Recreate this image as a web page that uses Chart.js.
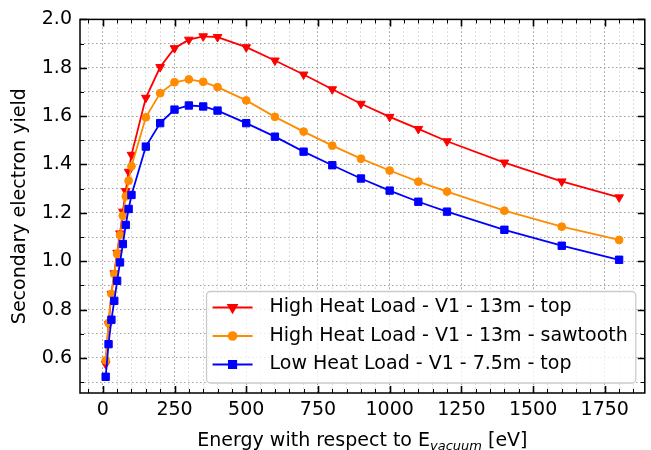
<!DOCTYPE html>
<html>
<head>
<meta charset="utf-8">
<title>Secondary electron yield</title>
<script src="https://cdn.jsdelivr.net/npm/chart.js"></script>
<style>
  html, body { margin: 0; padding: 0; background: #fff; }
  #wrap { width: 651px; height: 450px; }
</style>
</head>
<body>
<div id="wrap"><canvas id="chart-sey" width="651" height="450"></canvas></div>
<script>
// energy points [eV]
var energy = [10, 20, 30, 40, 50, 60, 70, 80, 90, 100, 150, 200, 250, 300, 350, 400,
              500, 600, 700, 800, 900, 1000, 1100, 1200, 1400, 1600, 1800];

var seyHighTop = [0.575, 0.74, 0.865, 0.95, 1.035, 1.115, 1.205, 1.29, 1.37, 1.44,
                  1.676, 1.803, 1.881, 1.916, 1.930, 1.927, 1.885, 1.830, 1.772, 1.711,
                  1.651, 1.597, 1.547, 1.496, 1.408, 1.330, 1.264];
var seyHighSaw = [0.59, 0.745, 0.865, 0.947, 1.03, 1.108, 1.188, 1.268, 1.333, 1.393,
                  1.595, 1.695, 1.740, 1.752, 1.742, 1.720, 1.665, 1.597, 1.536, 1.478,
                  1.424, 1.375, 1.329, 1.288, 1.209, 1.143, 1.088];
var seyLowTop  = [0.522, 0.657, 0.758, 0.836, 0.919, 0.995, 1.071, 1.150, 1.216, 1.274,
                  1.474, 1.571, 1.627, 1.644, 1.640, 1.623, 1.571, 1.515, 1.453, 1.397,
                  1.342, 1.292, 1.246, 1.205, 1.130, 1.064, 1.006];

var seriesLabels = ['High Heat Load - V1 - 13m - top',
                    'High Heat Load - V1 - 13m - sawtooth',
                    'Low Heat Load - V1 - 7.5m - top'];

var xTickLabels = [0, 250, 500, 750, 1000, 1250, 1500, 1750];
var yTickLabels = [0.6, 0.8, 1.0, 1.2, 1.4, 1.6, 1.8, 2.0];

var FONT = '"DejaVu Sans", "Liberation Sans", sans-serif';
var X_MIN = -79.5, X_MAX = 1889.5, Y_MIN = 0.455, Y_MAX = 2.0;

// minor ticks every 50 eV / 0.1
var xTicks = [];
for (var i = -50; i <= 1850; i += 50) xTicks.push(i);
var yTicks = [];
for (var j = 5; j <= 20; j++) yTicks.push(j / 10);

function isMajorX(v) {
    return xTickLabels.indexOf(v) !== -1;
}

function isMajorY(v) {
    return yTickLabels.some(function (t) { return Math.abs(t - v) < 1e-6; });
}

var frameAndLegend = {
    id: 'frameAndLegend',
    afterDraw: function (chart) {
        var ctx = chart.ctx;
        var area = chart.chartArea;
        var xs = chart.scales.x, ys = chart.scales.y;

        ctx.save();
        ctx.strokeStyle = '#000';

        // inward ticks on all four sides
        xTicks.forEach(function (v) {
            var px = Math.round(xs.getPixelForValue(v)) + 0.5;
            var len = isMajorX(v) ? 7 : 4;
            ctx.lineWidth = isMajorX(v) ? 1.6 : 1;
            ctx.beginPath();
            ctx.moveTo(px, area.bottom); ctx.lineTo(px, area.bottom - len);
            ctx.moveTo(px, area.top); ctx.lineTo(px, area.top + len);
            ctx.stroke();
        });
        yTicks.forEach(function (v) {
            var py = Math.round(ys.getPixelForValue(v)) + 0.5;
            var len = isMajorY(v) ? 7 : 4;
            ctx.lineWidth = isMajorY(v) ? 1.6 : 1;
            ctx.beginPath();
            ctx.moveTo(area.left, py); ctx.lineTo(area.left + len, py);
            ctx.moveTo(area.right, py); ctx.lineTo(area.right - len, py);
            ctx.stroke();
        });

        ctx.lineWidth = 1.5;
        ctx.strokeRect(area.left, area.top, area.right - area.left, area.bottom - area.top);

        // x axis title with subscript
        var main = 'Energy with respect to E', sub = 'vacuum', tail = ' [eV]';
        var mainFont = '19px ' + FONT, subFont = 'italic 13px ' + FONT;
        ctx.font = mainFont;
        var w1 = ctx.measureText(main).width, w3 = ctx.measureText(tail).width;
        ctx.font = subFont;
        var w2 = ctx.measureText(sub).width;
        var tx = (area.left + area.right) / 2 - (w1 + w2 + w3) / 2;
        var ty = 446;
        ctx.fillStyle = '#000';
        ctx.textBaseline = 'alphabetic';
        ctx.textAlign = 'left';
        ctx.font = mainFont;
        ctx.fillText(main, tx, ty);
        ctx.font = subFont;
        ctx.fillText(sub, tx + w1, ty + 4);
        ctx.font = mainFont;
        ctx.fillText(tail, tx + w1 + w2, ty);

        // legend, lower right
        ctx.font = '19px ' + FONT;
        var maxW = 0;
        chart.data.datasets.forEach(function (ds) {
            maxW = Math.max(maxW, ctx.measureText(ds.label).width);
        });
        var rowH = 28.5;
        var bw = 63 + maxW + 8, bh = rowH * 3 + 6;
        var bx = area.right - 9 - bw, by = area.bottom - 10 - bh;
        ctx.beginPath();
        ctx.roundRect(bx, by, bw, bh, 4);
        ctx.fillStyle = 'rgba(255,255,255,0.8)';
        ctx.fill();
        ctx.strokeStyle = '#cccccc';
        ctx.lineWidth = 1.3;
        ctx.stroke();

        chart.data.datasets.forEach(function (ds, k) {
            var cy = by + 16 + k * rowH;
            ctx.strokeStyle = ds.borderColor;
            ctx.lineWidth = ds.borderWidth;
            ctx.beginPath();
            ctx.moveTo(bx + 6, cy); ctx.lineTo(bx + 46, cy);
            ctx.stroke();
            ctx.fillStyle = ds.pointBackgroundColor;
            ctx.strokeStyle = ds.pointBorderColor;
            Chart.helpers.drawPoint(ctx, {
                pointStyle: ds.pointStyle,
                rotation: ds.pointRotation || 0,
                radius: ds.pointRadius,
                borderWidth: 1
            }, bx + 26, cy);
            ctx.fillStyle = '#000';
            ctx.textBaseline = 'middle';
            ctx.fillText(ds.label, bx + 63, cy);
        });
        ctx.restore();
    }
};

function makeSeries(label, values, color, style, radius, rotation, order) {
    return {
        label: label,
        data: energy.map(function (e, k) { return { x: e, y: values[k] }; }),
        borderColor: color,
        backgroundColor: color,
        pointBackgroundColor: color,
        pointBorderColor: color,
        pointStyle: style,
        pointRadius: radius,
        pointRotation: rotation,
        pointBorderWidth: 1,
        borderWidth: 1.8,
        tension: 0,
        fill: false,
        order: order
    };
}

new Chart(document.getElementById('chart-sey').getContext('2d'), {
    type: 'line',
    data: {
        datasets: [
            makeSeries(seriesLabels[0], seyHighTop, '#ff0000', 'triangle', 5, 180, 3),
            makeSeries(seriesLabels[1], seyHighSaw, '#ff8c00', 'circle', 3.9, 0, 2),
            makeSeries(seriesLabels[2], seyLowTop, '#0000ff', 'rect', 5.2, 0, 1)
        ]
    },
    options: {
        responsive: false,
        animation: false,
        devicePixelRatio: 1,
        layout: { padding: { top: 19, right: 1, left: 0, bottom: 0 } },
        plugins: {
            legend: { display: false },
            tooltip: { enabled: false }
        },
        scales: {
            x: {
                type: 'linear',
                min: X_MIN,
                max: X_MAX,
                afterBuildTicks: function (scale) {
                    scale.ticks = xTicks.map(function (v) { return { value: v }; });
                },
                afterFit: function (scale) { scale.height = 57; },
                grid: {
                    drawTicks: false,
                    lineWidth: 1,
                    color: function (c) {
                        if (!c.tick) return '#999';
                        return isMajorX(c.tick.value) ? '#999999' : '#d2d2d2';
                    }
                },
                border: { display: false, dash: [1.5, 2.5] },
                ticks: {
                    autoSkip: false,
                    maxRotation: 0,
                    padding: 6,
                    color: '#000',
                    font: { family: FONT, size: 19 },
                    callback: function (v) { return isMajorX(v) ? String(v) : ''; }
                }
            },
            y: {
                type: 'linear',
                min: Y_MIN,
                max: Y_MAX,
                afterBuildTicks: function (scale) {
                    scale.ticks = yTicks.map(function (v) { return { value: v }; });
                },
                afterFit: function (scale) { scale.width = 80; },
                grid: {
                    drawTicks: false,
                    lineWidth: 1,
                    color: '#a0a0a0'
                },
                border: { display: false, dash: [1.5, 2.5] },
                title: {
                    display: true,
                    text: 'Secondary electron yield',
                    color: '#000',
                    font: { family: FONT, size: 19 },
                    padding: { top: 9, bottom: 0 }
                },
                ticks: {
                    autoSkip: false,
                    padding: 8,
                    color: '#000',
                    font: { family: FONT, size: 19 },
                    callback: function (v) { return isMajorY(v) ? v.toFixed(1) : ''; }
                }
            }
        }
    },
    plugins: [frameAndLegend]
});
</script>
</body>
</html>
